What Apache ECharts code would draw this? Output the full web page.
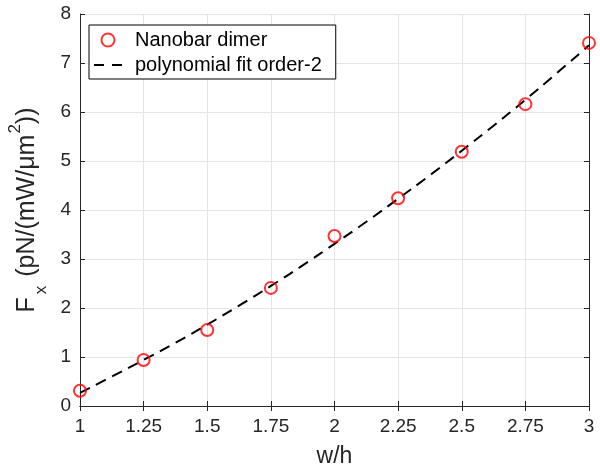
<!DOCTYPE html>
<html>
<head>
<meta charset="utf-8">
<script src="https://cdn.jsdelivr.net/npm/echarts@6/dist/echarts.min.js"></script>
<style>
  html, body { margin: 0; padding: 0; background: #fff; }
  #chart { width: 600px; height: 466px; }
</style>
</head>
<body>
<div id="chart"></div>
<script>
// Aspect ratio w/h and measured lateral force
const ratios = [1, 1.25, 1.5, 1.75, 2, 2.25, 2.5, 2.75, 3];
const forceFx = [0.31, 0.94, 1.55, 2.41, 3.47, 4.24, 5.19, 6.16, 7.41];

// Second-order polynomial fit, sampled along w/h
const fitRatios = [1, 1.125, 1.25, 1.375, 1.5, 1.625, 1.75, 1.875, 2, 2.125, 2.25, 2.375, 2.5, 2.625, 2.75, 2.875, 3];
const fitFx = [0.27, 0.60, 0.94, 1.29, 1.66, 2.05, 2.45, 2.87, 3.31, 3.76, 4.23, 4.71, 5.21, 5.72, 6.25, 6.80, 7.36];

const seriesNames = ['Nanobar dimer', 'polynomial fit order-2'];

const FONT = '"Liberation Sans", Arial, Helvetica, sans-serif';
const AX = '#262626';
const GRID = '#e5e5e5';
const RED = '#ff0000';

const chart = echarts.init(document.getElementById('chart'));

// Plain axis used to close the box on the top and right sides
const boxAxis = (extra) => Object.assign({
  type: 'value',
  axisLine: { show: true, lineStyle: { color: AX, width: 1 } },
  axisTick: { show: true, inside: true, length: 5, lineStyle: { color: AX } },
  splitLine: { show: false },
  axisLabel: { show: false }
}, extra);

chart.setOption({
  animation: false,
  backgroundColor: '#fff',
  grid: { left: 80, top: 14, right: 11, bottom: 60, containLabel: false, outerBoundsMode: 'none' },
  legend: {
    orient: 'vertical',
    left: 89,
    top: 25,
    padding: [5, 14, 4, 4],
    itemGap: 5,
    itemWidth: 28,
    itemHeight: 13,
    borderColor: '#000',
    borderWidth: 1,
    borderRadius: 0,
    backgroundColor: '#fff',
    textStyle: { fontFamily: FONT, fontSize: 20, color: '#000', padding: [0, 0, 0, 8] },
    data: [
      {
        name: seriesNames[0],
        icon: 'circle',
        itemStyle: { color: 'rgba(0,0,0,0)', borderColor: RED, borderWidth: 2 }
      },
      {
        name: seriesNames[1],
        itemStyle: { opacity: 0 },
        lineStyle: { color: '#000', width: 2, type: [10, 8] }
      }
    ]
  },
  xAxis: [
    {
      type: 'value', min: 1, max: 3, interval: 0.25,
      name: 'w/h', nameLocation: 'middle', nameGap: 39,
      nameTextStyle: { fontFamily: FONT, fontSize: 23, color: AX },
      axisLine: { show: true, onZero: false, lineStyle: { color: AX, width: 1 } },
      axisTick: { show: true, inside: true, length: 5, lineStyle: { color: AX } },
      axisLabel: { fontFamily: FONT, fontSize: 19, color: AX, margin: 11 },
      splitLine: { show: true, lineStyle: { color: GRID, width: 1 } }
    },
    boxAxis({ position: 'top', min: 1, max: 3, interval: 0.25 })
  ],
  yAxis: [
    {
      type: 'value', min: 0, max: 8, interval: 1,
      name: '{b|F}{sub|x}{b| (pN/(mW/μm}{sup|2}{b|))}',
      nameLocation: 'middle', nameGap: 26,
      nameTextStyle: {
        fontFamily: FONT, color: AX,
        rich: {
          b: { fontFamily: FONT, fontSize: 25, color: AX, verticalAlign: 'middle' },
          sub: { fontFamily: FONT, fontSize: 17, color: AX, verticalAlign: 'middle', padding: [28, 2, 0, 3] },
          sup: { fontFamily: FONT, fontSize: 17, color: AX, verticalAlign: 'middle', padding: [0, 0, 24, 1] }
        }
      },
      axisLine: { show: true, onZero: false, lineStyle: { color: AX, width: 1 } },
      axisTick: { show: true, inside: true, length: 5, lineStyle: { color: AX } },
      axisLabel: { fontFamily: FONT, fontSize: 19, color: AX, margin: 9 },
      splitLine: { show: true, lineStyle: { color: GRID, width: 1 } }
    },
    boxAxis({ position: 'right', min: 0, max: 8, interval: 1 })
  ],
  series: [
    {
      name: seriesNames[0],
      type: 'scatter',
      symbol: 'circle',
      symbolSize: 12,
      itemStyle: { color: 'rgba(0,0,0,0)', borderColor: RED, borderWidth: 2 },
      data: ratios.map((r, i) => [r, forceFx[i]]),
      z: 3
    },
    {
      name: seriesNames[1],
      type: 'line',
      smooth: true,
      symbol: 'none',
      lineStyle: { color: '#000', width: 2, type: [11, 7] },
      itemStyle: { color: '#000' },
      data: fitRatios.map((r, i) => [r, fitFx[i]]),
      z: 2
    }
  ]
});
</script>
</body>
</html>
